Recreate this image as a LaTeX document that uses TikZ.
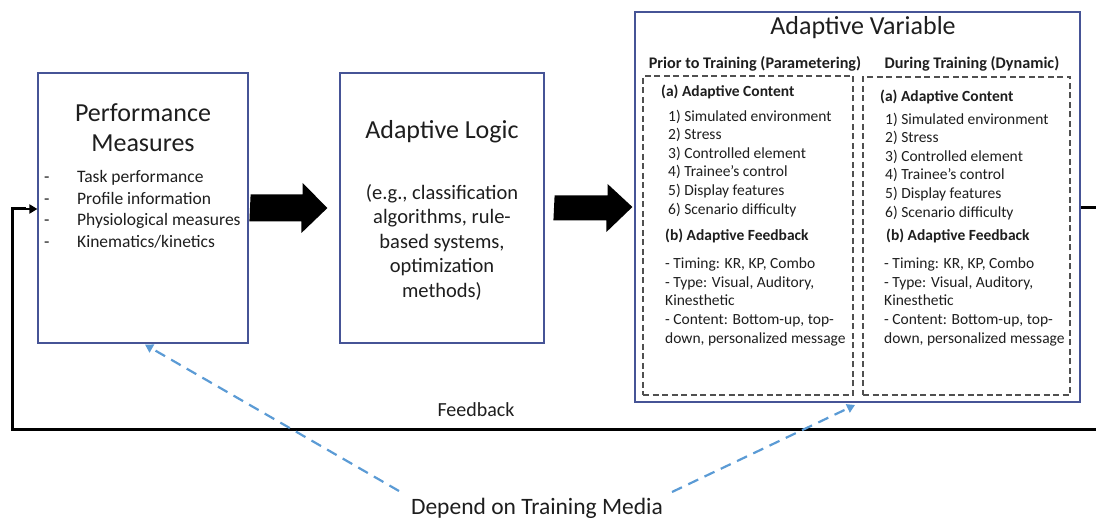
\documentclass[tikz,border=0pt]{standalone}
\usepackage{fontspec}
\setmainfont{Carlito}
\usetikzlibrary{arrows.meta,calc}
\definecolor{boxblue}{RGB}{70,84,150}
\definecolor{dashblue}{RGB}{91,155,213}
\definecolor{ink}{RGB}{30,30,30}
\definecolor{dgray}{RGB}{80,80,80}
\tikzset{
  mainbox/.style={draw=boxblue,line width=1.2pt,fill=white,inner sep=0pt},
  dbox/.style={draw=dgray,line width=1.8pt,dash pattern=on 6pt off 3.5pt,inner sep=0pt},
  big/.style={font=\fontsize{26}{30}\selectfont,text=ink,inner sep=0pt},
  mid/.style={font=\fontsize{20.5}{24.7}\selectfont,text=ink,inner sep=0pt,anchor=base},
  lst/.style={font=\fontsize{17.5}{21}\selectfont,text=ink,inner sep=0pt,anchor=base west},
  sml/.style={font=\fontsize{15.5}{18.6}\selectfont,text=ink,inner sep=0pt,anchor=base west},
  smb/.style={font=\fontsize{15.5}{18.6}\selectfont\bfseries,text=ink,inner sep=0pt,anchor=base west},
  hdr/.style={font=\fontsize{16.2}{19}\selectfont\bfseries,text=ink,inner sep=0pt,anchor=base},
  fbline/.style={line width=3pt,draw=black},
  bluedash/.style={draw=dashblue,line width=2.2pt,dash pattern=on 11pt off 7pt,-{Triangle[length=8pt,width=9pt]}},
  blockarrow/.style={fill=black}
}
\begin{document}
\begin{tikzpicture}[x=1pt,y=-1pt]
\useasboundingbox (0,0) rectangle (1096,521);
\clip (0,0) rectangle (1096,521);
% main boxes
\node[mainbox,minimum width=210pt,minimum height=270pt] (pm) at (143,208) {};
\node[mainbox,minimum width=204pt,minimum height=270pt] (al) at (442,208) {};
\node[mainbox,minimum width=445pt,minimum height=390pt] (av) at (857.5,207) {};
% dashed inner boxes
\node[dbox,minimum width=210pt,minimum height=319pt] (dl) at (748,235.5) {};
\node[dbox,minimum width=207pt,minimum height=318pt] (dr) at (966.5,236) {};

% Performance Measures
\node[big] (pmt1) at (143,113) {Performance};
\node[big] (pmt2) at (143,143) {Measures};
\foreach \t [count=\i] in {Task performance,Profile information,Physiological measures,Kinematics/kinetics}{
  \node[lst] (pmd\i) at (44,{161.5+21.4*\i}) {-};
  \node[lst] (pmi\i) at (77,{161.5+21.4*\i}) {\t};
}

% Adaptive Logic
\node[big] (alt) at (442,132) {Adaptive Logic};
\foreach \t [count=\i] in {{(e.g., classification},{algorithms, rule-},{based systems,},{optimization},{methods)}}{
  \node[mid] (ald\i) at (442,{174.5+24.6*\i}) {\t};
}

% Adaptive Variable
\node[big] (avt) at (863,28) {Adaptive Variable};
\node[hdr] (avh1) at (755,68.5) {Prior to Training (Parametering)};
\node[hdr] (avh2) at (972,68.5) {During Training (Dynamic)};

\node[smb] (la) at (661,96.5) {(a) Adaptive Content};
\node[smb] (ra) at (880,101.5) {(a) Adaptive Content};
\foreach \t [count=\i] in {1) Simulated environment,2) Stress,3) Controlled element,4) Trainee’s control,5) Display features,6) Scenario difficulty}{
  \node[sml] (li\i) at (668,{102.6+18.6*\i}) {\t};
  \node[sml] (ri\i) at (885,{105.6+18.6*\i}) {\t};
}
\node[smb] (lb) at (665,240.5) {(b) Adaptive Feedback};
\node[smb] (rb) at (886,240.5) {(b) Adaptive Feedback};
\foreach \t/\y [count=\i] in {{- Timing: KR, KP, Combo}/269,{- Type: Visual, Auditory,}/287.5,{Kinesthetic}/306,{- Content: Bottom-up, top-}/325,{down, personalized message}/344}{
  \node[sml] (lf\i) at (665,\y) {\t};
  \node[sml] (rf\i) at (884,\y) {\t};
}

% block arrows
\fill[blockarrow] ([xshift=2pt,yshift=13.5pt]pm.east) -- ++(52,0) -- ++(0,-11.5) -- ([xshift=-12pt]al.west) -- ++(-26,25) -- ++(0,-11.5) -- ++(-52,0) -- cycle;
\fill[blockarrow] ([xshift=10pt,yshift=12.5pt]al.east) -- ++(53,0) -- ++(0,-11.5) -- ([xshift=-2pt]av.west) -- ++(-26,25) -- ++(0,-11.5) -- ++(-53,0) -- cycle;

% feedback loop
\coordinate (fr1) at (1110,208);
\coordinate (fr2) at (1110,430);
\coordinate (fl1) at (12,430);
\coordinate (fl2) at (12,209);
\draw[fbline] ([yshift=-1pt]av.east) -- (fr1) -- (fr2) -- (fl1) -- (fl2) -- ++(14,0);
\draw[line width=2.2pt,-{Triangle[length=8pt,width=9pt]}] ([xshift=-1pt]fl2) -- ([yshift=-1pt]pm.west);
\node[font=\fontsize{20}{24}\selectfont,text=ink,inner sep=0pt] (fbk) at (476,410) {Feedback};

% training media
\node[font=\fontsize{23.5}{28}\selectfont,text=ink,inner sep=0pt] (dm) at (537,508) {Depend on Training Media};
\coordinate (dmL) at (399,491);
\coordinate (dmR) at (672,492);
\draw[bluedash] (dmL) -- ([xshift=2pt,yshift=-1pt]pm.south);
\draw[bluedash] (dmR) -- (855,405);
\end{tikzpicture}
\end{document}
